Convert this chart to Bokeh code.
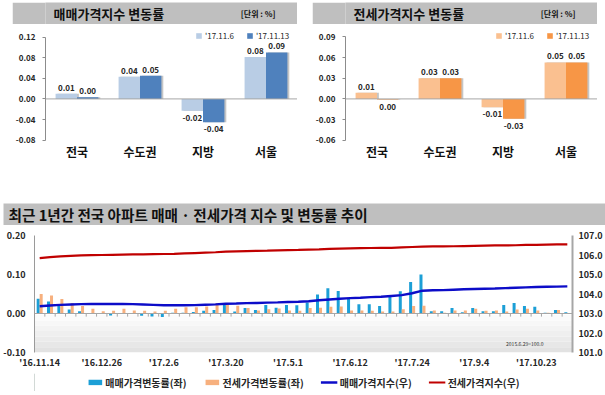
from bokeh.plotting import figure
from bokeh.models import (ColumnDataSource, FactorRange, Range1d, LinearAxis, FixedTicker,
                          NumeralTickFormatter, Legend, LegendItem, Span, Label, BoxAnnotation,
                          Spacer)
from bokeh.layouts import column, row
from bokeh.transform import dodge
from bokeh.embed import file_html
from bokeh.resources import INLINE

FONT = "Noto Sans CJK KR"
TXT = "#262626"
AXIS = "#8c8c8c"
BAR_GRAY = "#bfbfbf"
C_SALE_BAR = "#1c9fd6"
C_JEONSE_BAR = "#f7b07e"
C_SALE_LINE = "#0c0cc8"
C_JEONSE_LINE = "#c00000"

# ---------------- data: top charts ----------------
regions = ["전국", "수도권", "지방", "서울"]
week_names = ["'17.11.6", "'17.11.13"]

sale_prev = [0.010, 0.043, -0.023, 0.081]
sale_cur = [0.003, 0.045, -0.045, 0.090]
sale_prev_lbl = ["0.01", "0.04", "-0.02", "0.08"]
sale_cur_lbl = ["0.00", "0.05", "-0.04", "0.09"]
sale_ticks = [-0.08, -0.04, 0.0, 0.04, 0.08, 0.12]

jeonse_prev = [0.009, 0.030, -0.012, 0.053]
jeonse_cur = [-0.001, 0.030, -0.029, 0.053]
jeonse_prev_lbl = ["0.01", "0.03", "-0.01", "0.05"]
jeonse_cur_lbl = ["0.00", "0.03", "-0.03", "0.05"]
jeonse_ticks = [-0.06, -0.03, 0.0, 0.03, 0.06, 0.09]

# ---------------- data: weekly trend (52 weeks) ----------------
sale_chg = [0.038, 0.031, 0.021, 0.010, 0.006, 0.001, -0.001, -0.005, -0.001, -0.001,
            -0.006, -0.008, -0.009, 0.002, 0.002, 0.004, 0.007, 0.009, 0.024, 0.005,
            0.014, 0.009, 0.022, 0.015, 0.022, 0.021, 0.028, 0.049, 0.065, 0.058,
            0.038, 0.024, 0.024, 0.019, 0.044, 0.057, 0.081, 0.100, 0.006, 0.006,
            0.014, 0.003, 0.014, 0.006, 0.006, 0.022, 0.027, 0.019, 0.017, 0.002,
            0.009, 0.003]
jeonse_chg = [0.050, 0.046, 0.037, 0.027, 0.019, 0.012, 0.006, 0.007, 0.012, 0.008,
              0.007, 0.005, 0.007, 0.012, 0.016, 0.016, 0.018, 0.026, 0.022, 0.020,
              0.014, 0.008, 0.011, 0.013, 0.008, 0.007, 0.014, 0.015, 0.017, 0.018,
              0.008, 0.008, 0.007, 0.005, 0.005, 0.011, 0.019, 0.020, 0.008, 0.002,
              0.008, 0.008, 0.012, 0.007, 0.008, 0.005, 0.010, 0.012, 0.008, 0.002,
              0.009, -0.001]
sale_index = [103.37, 103.41, 103.44, 103.46, 103.48, 103.49, 103.49, 103.49, 103.49, 103.48,
              103.46, 103.44, 103.42, 103.42, 103.42, 103.43, 103.45, 103.47, 103.50, 103.51,
              103.53, 103.54, 103.56, 103.57, 103.59, 103.60, 103.63, 103.68, 103.72, 103.76,
              103.79, 103.81, 103.84, 103.86, 103.90, 103.94, 104.04, 104.17, 104.19, 104.20,
              104.22, 104.24, 104.26, 104.27, 104.28, 104.30, 104.32, 104.34, 104.36, 104.37,
              104.38, 104.39]
jeonse_index = [105.84, 105.89, 105.93, 105.96, 105.98, 105.99, 106.00, 106.01, 106.02, 106.03,
                106.03, 106.04, 106.05, 106.06, 106.08, 106.10, 106.12, 106.14, 106.17, 106.19,
                106.20, 106.21, 106.22, 106.24, 106.25, 106.26, 106.28, 106.29, 106.31, 106.33,
                106.34, 106.35, 106.36, 106.37, 106.37, 106.39, 106.41, 106.43, 106.44, 106.44,
                106.45, 106.46, 106.47, 106.48, 106.49, 106.49, 106.50, 106.52, 106.52, 106.53,
                106.54, 106.54]
week_tick_labels = ["'16.11.14", "'16.12.26", "'17.2.6", "'17.3.20", "'17.5.1",
                    "'17.6.12", "'17.7.24", "'17.9.4", "'17.10.23"]
chg_ticks = [-0.10, 0.0, 0.10, 0.20]
index_ticks = [101, 102, 103, 104, 105, 106, 107]
series_labels = ["매매가격변동률(좌)", "전세가격변동률(좌)", "매매가격지수(우)", "전세가격지수(우)"]


def title_bar(text, width, height, size, text_x, unit=None, unit_x=-22):
    t = figure(width=width, height=height, x_range=Range1d(0, 1), y_range=Range1d(0, 1),
               x_axis_location=None, y_axis_location=None, toolbar_location=None,
               output_backend="svg", min_border_left=0, min_border_right=0,
               min_border_top=0, min_border_bottom=0)
    t.grid.visible = False
    t.outline_line_color = None
    t.background_fill_color = BAR_GRAY
    t.border_fill_color = BAR_GRAY
    t.add_layout(Label(x=0, y=0.5, x_offset=text_x, text=text, text_baseline="middle",
                       text_font=FONT, text_font_size=size, text_font_style="bold",
                       text_color="#111111"))
    if unit:
        t.add_layout(Label(x=1, y=0.5, x_offset=unit_x, text=unit, text_align="right",
                           text_baseline="middle", text_font=FONT, text_font_size="8px",
                           text_font_style="bold", text_color="#111111"))
    return t


def add_value_labels(p, off, vals, lbls):
    for positive in (True, False):
        idx = [i for i, v in enumerate(vals) if (v >= 0) == positive]
        if not idx:
            continue
        s = ColumnDataSource(dict(region=[regions[i] for i in idx], v=[vals[i] for i in idx],
                                  t=[lbls[i] for i in idx]))
        p.text(x=dodge("region", off, range=p.x_range), y="v", text="t", source=s,
               text_align="center", text_baseline="bottom" if positive else "top",
               y_offset=-3 if positive else 4, text_font={"value": FONT},
               text_font_size="8px", text_font_style="bold", text_color=TXT)


def bar_chart(prev, cur, prev_lbl, cur_lbl, c_prev, c_cur, ticks, y_lo, y_hi, width, left, right):
    src = ColumnDataSource(dict(region=regions, prev=prev, cur=cur))
    p = figure(width=width, height=142, x_range=FactorRange(factors=regions),
               y_range=Range1d(y_lo, y_hi), toolbar_location=None, output_backend="svg",
               min_border_left=left, min_border_right=right, min_border_top=7,
               min_border_bottom=26)
    p.grid.visible = False
    p.outline_line_color = None
    for off, col in ((-0.17, "prev"), (0.17, "cur")):
        p.vbar(x=dodge("region", off + 0.03, range=p.x_range), top=col, width=0.34,
               source=src, fill_color="#7f7f7f", fill_alpha=0.45, line_color=None)
    r1 = p.vbar(x=dodge("region", -0.17, range=p.x_range), top="prev", width=0.34,
                source=src, fill_color=c_prev, line_color=None)
    r2 = p.vbar(x=dodge("region", 0.17, range=p.x_range), top="cur", width=0.34,
                source=src, fill_color=c_cur, line_color=None)
    p.add_layout(Span(location=0, dimension="width", line_color="#a6a6a6", line_width=1))
    add_value_labels(p, -0.17, prev, prev_lbl)
    add_value_labels(p, 0.17, cur, cur_lbl)

    ya = p.yaxis[0]
    ya.ticker = FixedTicker(ticks=ticks)
    ya.formatter = NumeralTickFormatter(format="0.00")
    ya.bounds = (ticks[0], ticks[-1])
    ya.axis_line_color = AXIS
    ya.major_tick_line_color = AXIS
    ya.major_tick_in = 0
    ya.major_tick_out = 3
    ya.minor_tick_line_color = None
    ya.major_label_standoff = 7
    ya.major_label_text_font = FONT
    ya.major_label_text_font_size = "8px"
    ya.major_label_text_font_style = "bold"
    ya.major_label_text_color = TXT

    xa = p.xaxis[0]
    xa.axis_line_color = None
    xa.major_tick_line_color = None
    xa.major_tick_out = 0
    xa.minor_tick_line_color = None
    xa.major_label_standoff = 2
    xa.major_label_text_font = FONT
    xa.major_label_text_font_size = "12px"
    xa.major_label_text_font_style = "bold"
    xa.major_label_text_color = "#111111"

    leg = Legend(items=[LegendItem(label=week_names[0], renderers=[r1]),
                        LegendItem(label=week_names[1], renderers=[r2])],
                 location=(150, 99), orientation="horizontal", glyph_width=7, glyph_height=7,
                 label_standoff=3, spacing=12, padding=0, margin=0, label_height=9,
                 label_width=10, label_text_font=FONT, label_text_font_size="8px",
                 label_text_color=TXT, background_fill_alpha=0, border_line_color=None)
    p.add_layout(leg)
    return p


# ---------------- top row ----------------
tb1 = title_bar("매매가격지수 변동률", 285, 22, "13px", 8, unit="[단위 : %]")
p1 = bar_chart(sale_prev, sale_cur, sale_prev_lbl, sale_cur_lbl, "#b9cde5", "#4f81bd",
               sale_ticks, -0.08058, 0.13066, 285, 31, 0)
tb2 = title_bar("전세가격지수 변동률", 285, 22, "13px", 8, unit="[단위 : %]")
p2 = bar_chart(jeonse_prev, jeonse_cur, jeonse_prev_lbl, jeonse_cur_lbl, "#fac090", "#f79646",
               jeonse_ticks, -0.06044, 0.09799, 285, 31, 0)

# ---------------- bottom chart ----------------
tb3 = title_bar("최근 1년간 전국 아파트 매매 · 전세가격 지수 및 변동률 추이", 602, 22, "14.6px", 5)

week_pos = list(range(len(sale_chg)))
src3 = ColumnDataSource(dict(x=week_pos, sale=sale_chg, jeonse=jeonse_chg,
                             sidx=sale_index, jidx=jeonse_index))
p3 = figure(width=605, height=148, x_range=Range1d(-0.5, len(week_pos) - 0.5),
            y_range=Range1d(chg_ticks[0], chg_ticks[-1]), toolbar_location=None,
            output_backend="svg", min_border_left=33, min_border_right=33,
            min_border_top=10, min_border_bottom=21)
p3.extra_y_ranges = {"idx": Range1d(index_ticks[0], index_ticks[-1])}
p3.grid.visible = False
p3.outline_line_color = None

# soft gray gradient at the bottom of the plot area
shades = ["#e2e2e2", "#e7e7e7", "#ebebeb", "#efefef", "#f3f3f3", "#f7f7f7", "#fbfbfb"]
lo, hi = chg_ticks[0], -0.004
step = (hi - lo) / len(shades)
for k, c in enumerate(shades):
    p3.add_layout(BoxAnnotation(bottom=lo + k * step, top=lo + (k + 1) * step, fill_color=c,
                                fill_alpha=1, line_color=None, level="underlay"))

bounds = [k - 0.5 for k in range(len(week_pos) + 1)]
p3.segment(x0=bounds, y0=[0] * len(bounds), x1=bounds, y1=[-0.008] * len(bounds),
           line_color="#a6a6a6", line_width=1)
p3.add_layout(Span(location=0, dimension="width", line_color="#a6a6a6", line_width=1))

p3.vbar(x=dodge("x", -0.145), top="sale", width=0.29, source=src3,
        fill_color=C_SALE_BAR, line_color=None)
p3.vbar(x=dodge("x", 0.145), top="jeonse", width=0.29, source=src3,
        fill_color=C_JEONSE_BAR, line_color=None)
p3.line("x", "sidx", source=src3, y_range_name="idx", line_color=C_SALE_LINE, line_width=2.4)
p3.line("x", "jidx", source=src3, y_range_name="idx", line_color=C_JEONSE_LINE, line_width=2.2)

xa = p3.xaxis[0]
tick_pos = week_pos[::6]
xa.ticker = FixedTicker(ticks=tick_pos)
xa.major_label_overrides = {t: l for t, l in zip(tick_pos, week_tick_labels)}
xa.axis_line_color = None
xa.major_tick_line_color = None
xa.major_tick_out = 0
xa.minor_tick_line_color = None
xa.major_label_standoff = 3
xa.major_label_text_font = FONT
xa.major_label_text_font_size = "9px"
xa.major_label_text_font_style = "bold"
xa.major_label_text_color = TXT

ya = p3.yaxis[0]
ya.ticker = FixedTicker(ticks=chg_ticks)
ya.formatter = NumeralTickFormatter(format="0.00")
ya.axis_line_color = "#9a9a9a"
ya.major_tick_line_color = None
ya.major_tick_out = 0
ya.minor_tick_line_color = None
ya.major_label_standoff = 9
ya.major_label_text_font = FONT
ya.major_label_text_font_size = "9px"
ya.major_label_text_font_style = "bold"
ya.major_label_text_color = TXT

ra = LinearAxis(y_range_name="idx", ticker=FixedTicker(ticks=index_ticks),
                formatter=NumeralTickFormatter(format="0.0"))
ra.axis_line_color = "#a6a6a6"
ra.axis_line_width = 2
ra.major_tick_line_color = None
ra.major_tick_out = 0
ra.minor_tick_line_color = None
ra.major_label_standoff = 6
ra.major_label_text_font = FONT
ra.major_label_text_font_size = "9px"
ra.major_label_text_font_style = "bold"
ra.major_label_text_color = TXT
p3.add_layout(ra, "right")

p3.add_layout(Label(x=len(week_pos) - 3.3, y=-0.076, text="2015.6.29=100.0", text_align="right",
                    text_baseline="middle", text_font=FONT, text_font_size="5px",
                    text_color="#333333"))

# legend strip below the trend chart: key glyphs sit outside its visible range
lf = figure(width=605, height=18, x_range=Range1d(0, 1), y_range=Range1d(0, 1),
            x_axis_location=None, y_axis_location=None, toolbar_location=None,
            output_backend="svg", min_border_left=0, min_border_right=0,
            min_border_top=0, min_border_bottom=0)
lf.grid.visible = False
lf.outline_line_color = None
off_range = [-5.0, -4.0]
k1 = lf.vbar(x=off_range[:1], top=[1], width=0.1, fill_color=C_SALE_BAR, line_color=None)
k2 = lf.vbar(x=off_range[:1], top=[1], width=0.1, fill_color=C_JEONSE_BAR, line_color=None)
k3 = lf.line(x=off_range, y=[0.5, 0.5], line_color=C_SALE_LINE, line_width=2.4)
k4 = lf.line(x=off_range, y=[0.5, 0.5], line_color=C_JEONSE_LINE, line_width=2.2)
leg3 = Legend(items=[LegendItem(label=series_labels[0], renderers=[k1]),
                     LegendItem(label=series_labels[1], renderers=[k2]),
                     LegendItem(label=series_labels[2], renderers=[k3]),
                     LegendItem(label=series_labels[3], renderers=[k4])],
              location="center", orientation="horizontal", glyph_width=17, glyph_height=7,
              label_standoff=2, spacing=17, padding=0, margin=0, label_height=12,
              label_width=10, label_text_font=FONT, label_text_font_size="10px",
              label_text_font_style="bold", label_text_color=TXT,
              background_fill_alpha=0, border_line_color=None)
lf.add_layout(leg3)

top_row = row(Spacer(width=12, height=164), column(tb1, p1), Spacer(width=15, height=164),
              column(tb2, p2))
layout = column(Spacer(width=10, height=2), top_row, Spacer(width=10, height=37),
                row(Spacer(width=3, height=22), tb3), p3, lf)

open("out.html", "w").write(file_html(layout, INLINE))
